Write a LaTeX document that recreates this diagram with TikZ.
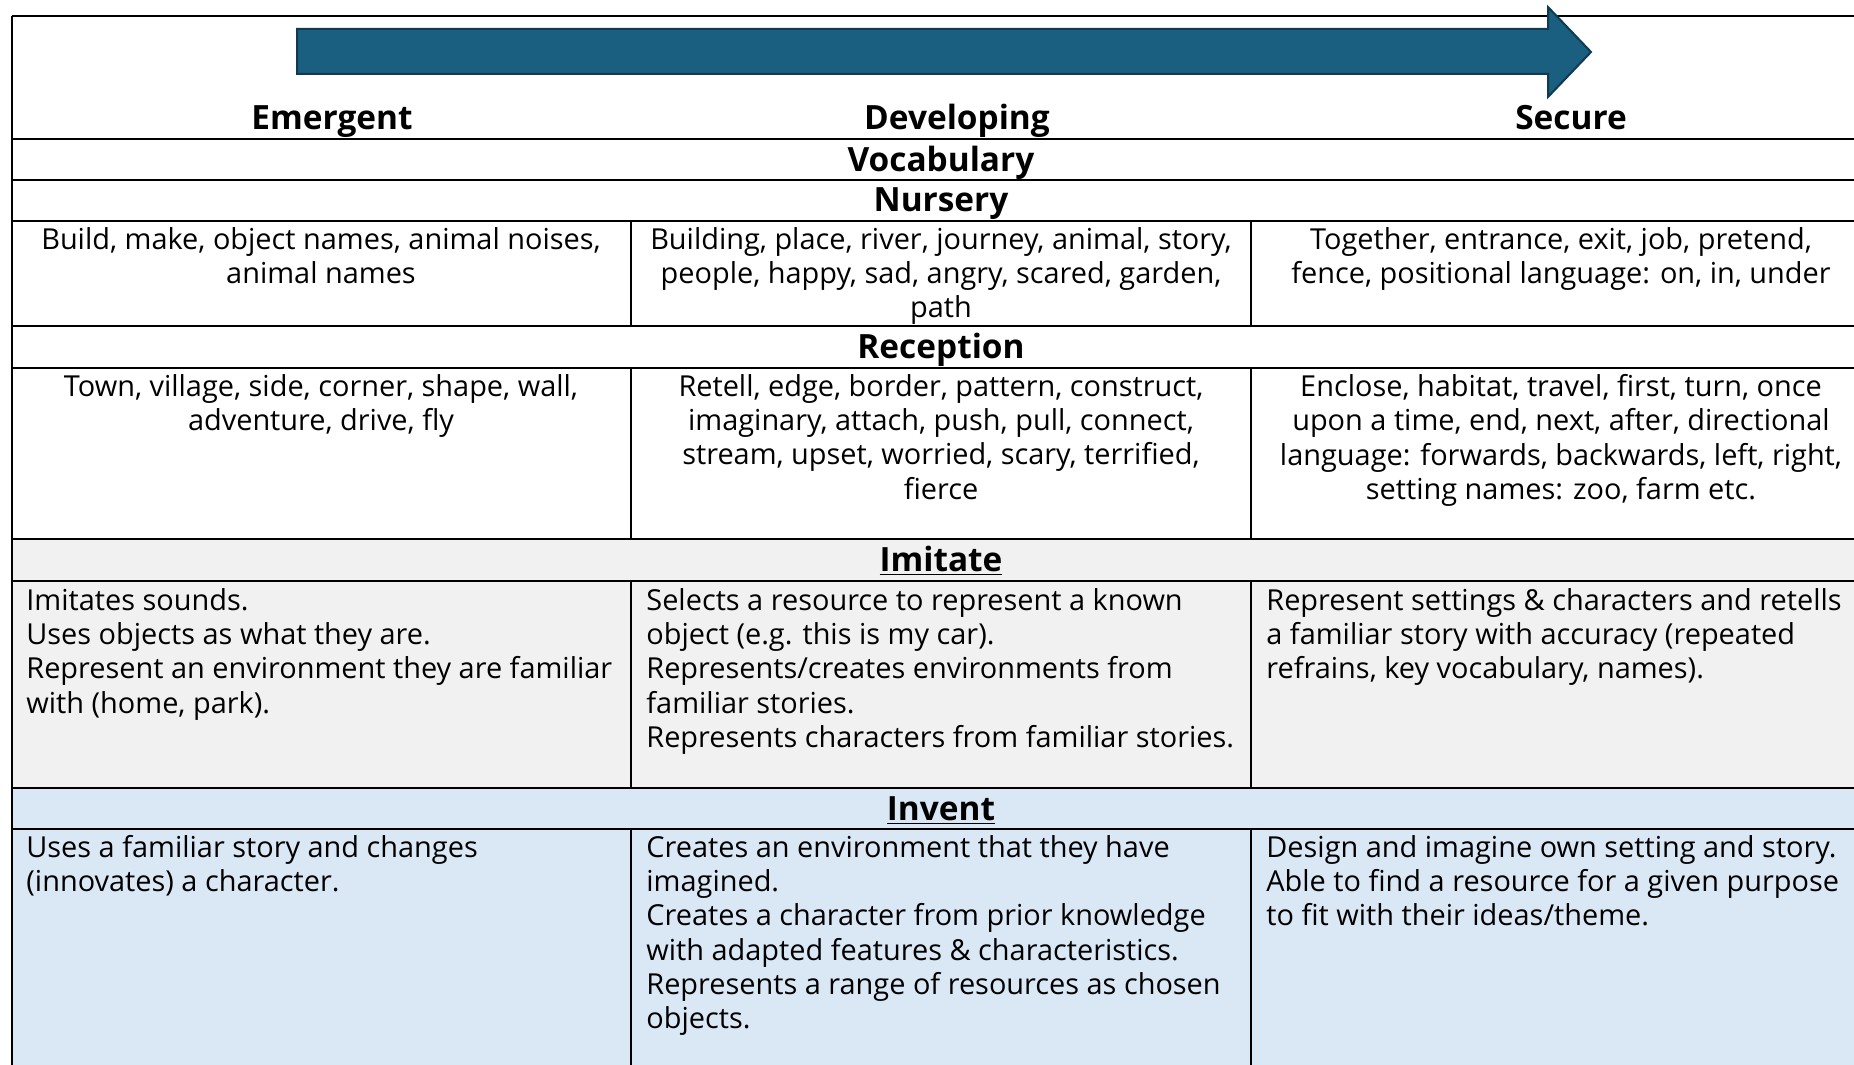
\documentclass[tikz,border=0pt]{standalone}
\usepackage{fontspec}
\setmainfont{Open Sans}
\usepackage{xcolor}
\usepackage{tikz}
\definecolor{arrowblue}{HTML}{1A5E80}
\definecolor{arrowedge}{HTML}{0E3A52}
\definecolor{imitategray}{HTML}{F1F1F1}
\definecolor{inventblue}{HTML}{DAE8F6}

\begin{document}
\begin{tikzpicture}[x=0.5pt,y=-0.5pt,
    rule/.style={line width=1.2pt},
    colrule/.style={line width=0.8pt},
    stage/.style={anchor=base, font=\bfseries\fontsize{16.7}{19}\selectfont},
    words/.style={anchor=north, align=center, inner sep=0pt, font=\fontsize{14.45}{17.15}\selectfont},
    skill/.style={anchor=north west, align=left, inner sep=0pt, font=\fontsize{14.45}{17.15}\selectfont}]
  \clip (0,0) rectangle (1854,1065);
        % Row fills
        \fill[imitategray] (12,539) rectangle (1871,788);
        \fill[inventblue] (12,788) rectangle (1871,1080);
        % Rules
        \draw[rule] (12,16) -- (1871,16) (12,139) -- (1871,139) (12,180) -- (1871,180)
          (12,221) -- (1871,221) (12,326) -- (1871,326) (12,368) -- (1871,368)
          (12,539) -- (1871,539) (12,581) -- (1871,581) (12,788) -- (1871,788)
          (12,829) -- (1871,829);
        \draw[rule] (12,16) -- (12,1080);
        \draw[colrule] (631,221) -- (631,326) (631,368) -- (631,539)
          (631,581) -- (631,788) (631,829) -- (631,1080);
        \draw[colrule] (1251,221) -- (1251,326) (1251,368) -- (1251,539)
          (1251,581) -- (1251,788) (1251,829) -- (1251,1080);
        % Arrow
        \filldraw[fill=arrowblue, draw=arrowedge, line width=1pt]
          (297,29) -- (1548,29) -- (1548,7) -- (1591,52) -- (1548,97) -- (1548,74) -- (297,74) -- cycle;
        % Stages
        \node[stage] (emergent) at (332,130) {Emergent};
        \node[stage] (developing) at (957,130) {Developing};
        \node[stage] (secure) at (1571,130) {Secure};
        % Vocabulary
        \node[stage] (vocab) at (941,172) {Vocabulary};
        \node[stage] (nursery) at (941,212) {Nursery};
        \node[words] (nurA) at (321,227) {Build, make, object names, animal noises,\\animal names};
        \node[words] (nurB) at (941,227) {Building, place, river, journey, animal, story,\\people, happy, sad, angry, scared, garden,\\path};
        \node[words] (nurC) at (1561,227) {Together, entrance, exit, job, pretend,\\fence, positional language: on, in, under};
        \node[stage] (reception) at (941,358) {Reception};
        \node[words] (recA) at (321,374) {Town, village, side, corner, shape, wall,\\adventure, drive, fly};
        \node[words] (recB) at (941,374) {Retell, edge, border, pattern, construct,\\imaginary, attach, push, pull, connect,\\stream, upset, worried, scary, terrified,\\fierce};
        \node[words] (recC) at (1561,374) {Enclose, habitat, travel, first, turn, once\\upon a time, end, next, after, directional\\language: forwards, backwards, left, right,\\setting names: zoo, farm etc.};
        % Imitate
        \node[stage] (imitate) at (941,571) {\underline{Imitate}};
        \node[skill] (imiA) at (26,588) {Imitates sounds.\\Uses objects as what they are.\\Represent an environment they are familiar\\with (home, park).};
        \node[skill] (imiB) at (646,588) {Selects a resource to represent a known\\object (e.g. this is my car).\\Represents/creates environments from\\familiar stories.\\Represents characters from familiar stories.};
        \node[skill] (imiC) at (1266,588) {Represent settings \& characters and retells\\a familiar story with accuracy (repeated\\refrains, key vocabulary, names).};
        % Invent
        \node[stage] (invent) at (941,820) {\underline{Invent}};
        \node[skill] (invA) at (26,835) {Uses a familiar story and changes\\(innovates) a character.};
        \node[skill] (invB) at (646,835) {Creates an environment that they have\\imagined.\\Creates a character from prior knowledge\\with adapted features \& characteristics.\\Represents a range of resources as chosen\\objects.};
        \node[skill] (invC) at (1266,835) {Design and imagine own setting and story.\\Able to find a resource for a given purpose\\to fit with their ideas/theme.};
      \end{tikzpicture}
\end{document}
